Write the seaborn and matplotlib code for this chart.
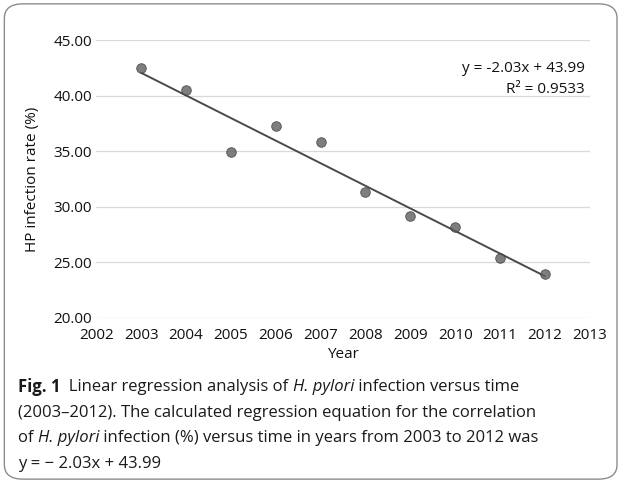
import numpy as np
import pandas as pd
import matplotlib
matplotlib.use('Agg')
import matplotlib.pyplot as plt
import matplotlib.patches as patches
import seaborn as sns

# 数据
years = [2003, 2004, 2005, 2006, 2007, 2008, 2009, 2010, 2011, 2012]
hp_rate = [42.5, 40.5, 34.9, 37.3, 35.8, 31.3, 29.2, 28.2, 25.4, 23.9]
y_ticks = [20, 25, 30, 35, 40, 45]
x_ticks = list(range(2002, 2014))
eq_text = 'y = -2.03x + 43.99'
r2_text = 'R² = 0.9533'

df = pd.DataFrame({'Year': years, 'rate': hp_rate})

sns.set_style('white')
plt.rcParams['font.family'] = ['Open Sans', 'DejaVu Sans']
plt.rcParams['text.color'] = '#111111'
plt.rcParams['xtick.color'] = '#111111'
plt.rcParams['ytick.color'] = '#111111'
plt.rcParams['axes.labelcolor'] = '#111111'

fig = plt.figure(figsize=(6.22, 4.83), dpi=100)
ax = fig.add_axes([0.155, 0.342, 0.793, 0.575])

sns.regplot(data=df, x='Year', y='rate', ax=ax, ci=None,
            scatter_kws=dict(s=48, color='#5e5e5e', edgecolor='#3a3a3a', linewidths=0.6, zorder=3),
            line_kws=dict(color='#4a4a4a', lw=1.4, zorder=2))

ax.set_xlim(2002, 2013)
ax.set_ylim(20, 45)
ax.set_xticks(x_ticks)
ax.set_yticks(y_ticks)
ax.set_yticklabels(['%.2f' % v for v in y_ticks])
ax.grid(axis='y', color='#d9d9d9', lw=0.9)
ax.grid(axis='x', visible=False)
for s in ax.spines.values():
    s.set_visible(False)
ax.tick_params(axis='y', length=0, labelsize=11, pad=3)
ax.tick_params(axis='x', length=0, labelsize=11, pad=7)
ax.set_xlabel('Year', fontsize=11, labelpad=3)
ax.set_ylabel('HP infection rate (%)', fontsize=11, labelpad=10)

ax.text(0.865, 0.86, eq_text + '\n' + r2_text, transform=ax.transAxes,
        ha='center', va='center', fontsize=11, linespacing=1.6, multialignment='right')

# 外框
box = patches.FancyBboxPatch((0.007, 0.008), 0.985, 0.984, transform=fig.transFigure,
                             boxstyle='round,pad=0,rounding_size=0.03', fill=False,
                             edgecolor='#8c8c8c', lw=1.0)
fig.patches.append(box)

# 图注
fig.canvas.draw()
renderer = fig.canvas.get_renderer()
cap_size = 12
lines = [
    [('Fig. 1', 'bold', 'normal'), ('  Linear regression analysis of ', 'normal', 'normal'),
     ('H. pylori', 'normal', 'italic'), (' infection versus time', 'normal', 'normal')],
    [('(2003–2012). The calculated regression equation for the correlation', 'normal', 'normal')],
    [('of ', 'normal', 'normal'), ('H. pylori', 'normal', 'italic'),
     (' infection (%) versus time in years from 2003 to 2012 was', 'normal', 'normal')],
    [('y = − 2.03x + 43.99', 'normal', 'normal')],
]
y0 = 1 - 387 / 483.0
dy = 25.7 / 483.0
for i, parts in enumerate(lines):
    x = 18 / 622.0
    for txt, w, st in parts:
        t = fig.text(x, y0 - i * dy, txt, fontsize=cap_size, fontweight=w, fontstyle=st,
                     ha='left', va='center', color='#1a1a1a')
        bb = t.get_window_extent(renderer)
        x = bb.x1 / fig.bbox.width

fig.savefig('out.png', dpi=100)
